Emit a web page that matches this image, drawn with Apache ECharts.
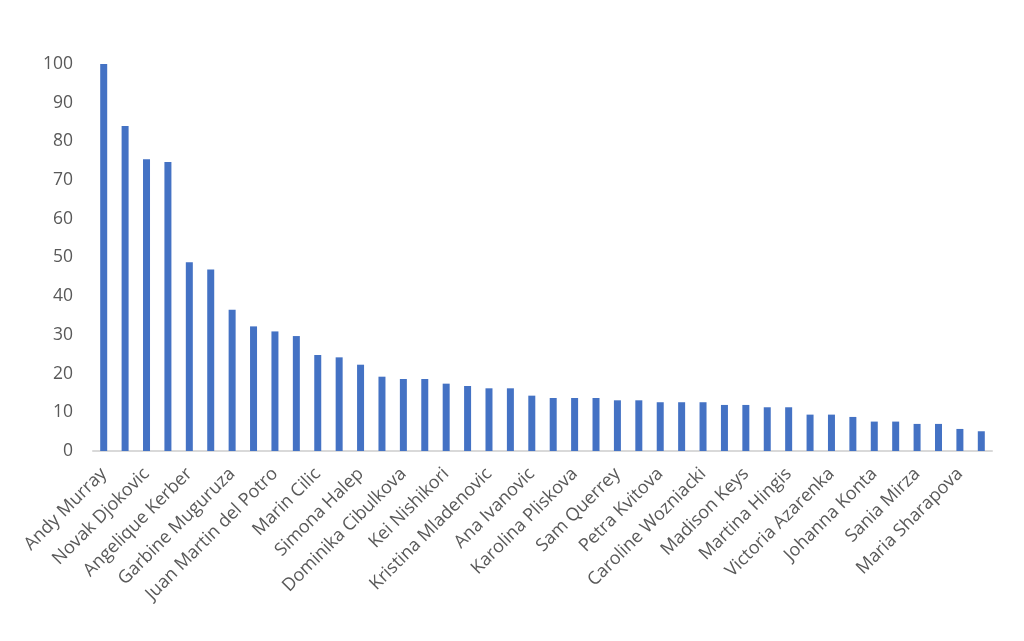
<!DOCTYPE html>
<html>
<head>
<meta charset="utf-8">
<script src="https://cdn.jsdelivr.net/npm/echarts@6/dist/echarts.min.js"></script>
<style>
html,body{margin:0;padding:0;background:#fff;}
#chart{width:1024px;height:641px;}
</style>
</head>
<body>
<div id="chart"></div>
<script>
const players = [
  "Andy Murray", "Serena Williams", "Novak Djokovic", "Rafael Nadal",
  "Angelique Kerber", "Roger Federer", "Garbine Muguruza", "Stan Wawrinka",
  "Juan Martin del Potro", "Milos Raonic", "Marin Cilic", "Agnieszka Radwanska",
  "Simona Halep", "Venus Williams", "Dominika Cibulkova", "Gael Monfils",
  "Kei Nishikori", "Dominic Thiem", "Kristina Mladenovic", "Eugenie Bouchard",
  "Ana Ivanovic", "Caroline Garcia", "Karolina Pliskova", "Nick Kyrgios",
  "Sam Querrey", "Svetlana Kuznetsova", "Petra Kvitova", "Tomas Berdych",
  "Caroline Wozniacki", "Jo-Wilfried Tsonga", "Madison Keys", "David Goffin",
  "Martina Hingis", "Roberta Vinci", "Victoria Azarenka", "Elina Svitolina",
  "Johanna Konta", "Grigor Dimitrov", "Sania Mirza", "Timea Bacsinszky",
  "Maria Sharapova", "Jack Sock"
];
const scores = [
  100, 84, 75.4, 74.7, 48.8, 46.9, 36.5, 32.2, 30.9, 29.7,
  24.8, 24.2, 22.3, 19.2, 18.6, 18.6, 17.4, 16.8, 16.2, 16.2,
  14.3, 13.7, 13.7, 13.7, 13.1, 13.1, 12.6, 12.6, 12.6, 11.9,
  11.9, 11.3, 11.3, 9.4, 9.4, 8.8, 7.6, 7.6, 7.0, 7.0,
  5.7, 5.1
];
const yTicks = { min: 0, max: 100, interval: 10 };

const chart = echarts.init(document.getElementById('chart'), null, {renderer: 'canvas'});
chart.setOption({
  animation: false,
  backgroundColor: '#ffffff',
  grid: { left: 93, right: 32, top: 64, bottom: 190, containLabel: false },
  xAxis: {
    type: 'category',
    data: players,
    axisLine: { show: true, lineStyle: { color: '#d9d9d9', width: 2 } },
    axisTick: { show: false },
    axisLabel: {
      interval: 1,
      rotate: 45,
      color: '#595959',
      fontFamily: 'Open Sans',
      fontSize: 18,
      margin: 20
    }
  },
  yAxis: {
    type: 'value',
    min: yTicks.min,
    max: yTicks.max,
    interval: yTicks.interval,
    axisLine: { show: false },
    axisTick: { show: false },
    splitLine: { show: false },
    axisLabel: {
      color: '#595959',
      fontFamily: 'Open Sans',
      fontSize: 17.5,
      margin: 20
    }
  },
  series: [{
    type: 'bar',
    data: scores,
    barWidth: 7,
    itemStyle: { color: '#4472C4' }
  }]
});
</script>
</body>
</html>
